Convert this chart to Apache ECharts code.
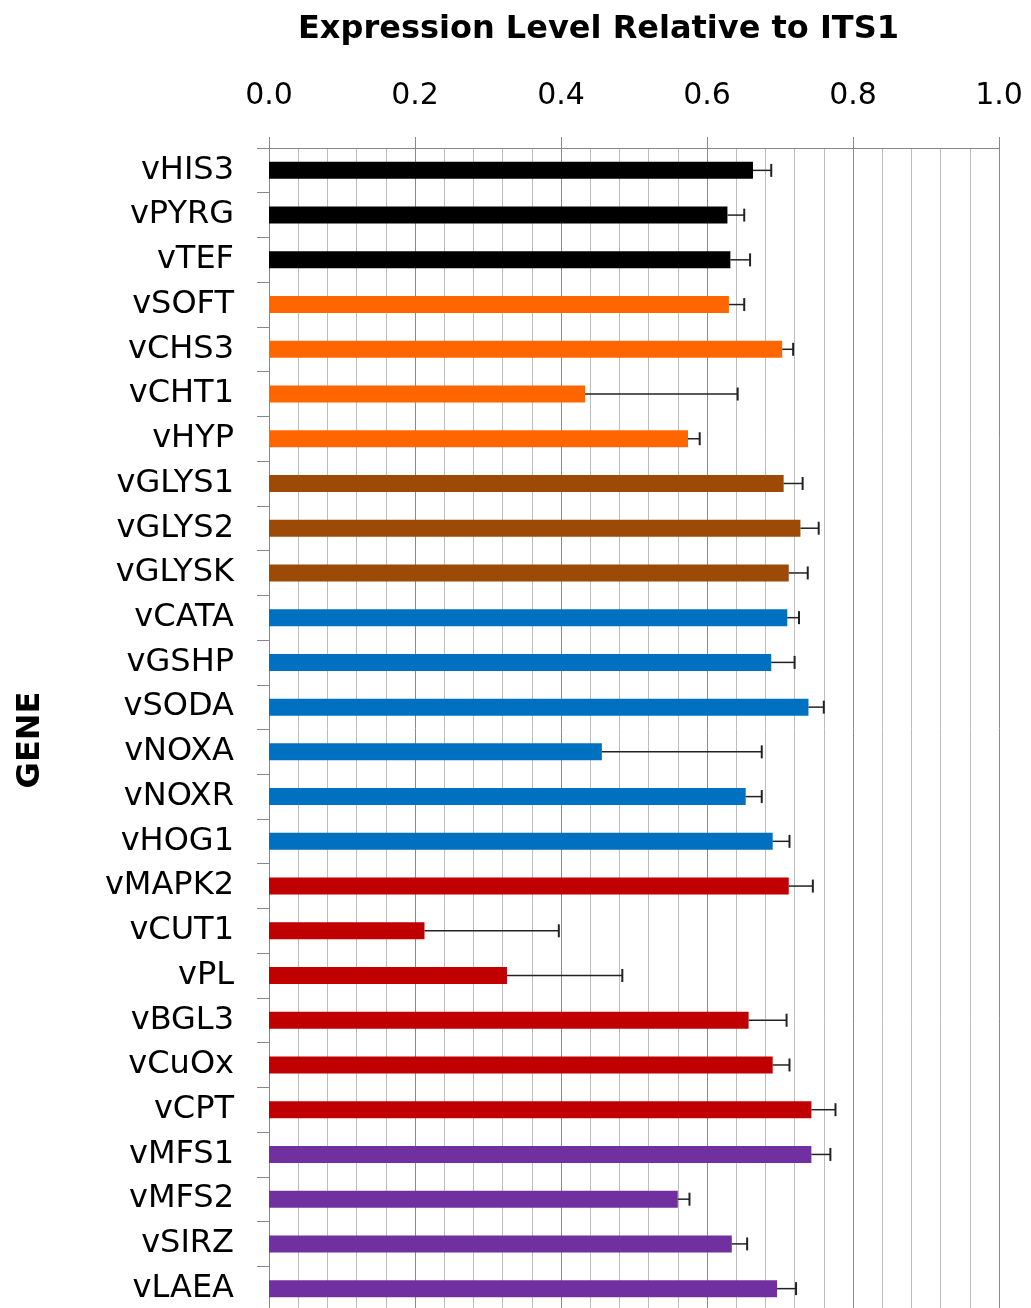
<!DOCTYPE html>
<html>
<head>
<meta charset="utf-8">
<script src="https://cdn.jsdelivr.net/npm/echarts@6/dist/echarts.min.js"></script>
<style>
html,body{margin:0;padding:0;background:#fff;}
#chart{width:1031px;height:1308px;}
</style>
</head>
<body>
<div id="chart"></div>
<script>
const categories = ['vHIS3','vPYRG','vTEF','vSOFT','vCHS3','vCHT1','vHYP','vGLYS1','vGLYS2','vGLYSK','vCATA','vGSHP','vSODA','vNOXA','vNOXR','vHOG1','vMAPK2','vCUT1','vPL','vBGL3','vCuOx','vCPT','vMFS1','vMFS2','vSIRZ','vLAEA'];
const values = [0.663,0.628,0.632,0.630,0.703,0.433,0.574,0.705,0.728,0.712,0.710,0.688,0.739,0.456,0.653,0.690,0.712,0.213,0.326,0.657,0.690,0.743,0.743,0.560,0.634,0.696];
const errors = [0.025,0.023,0.027,0.021,0.015,0.209,0.016,0.026,0.025,0.026,0.016,0.032,0.021,0.219,0.022,0.023,0.033,0.184,0.158,0.052,0.023,0.033,0.026,0.016,0.021,0.026];
const groups = [0,0,0,1,1,1,1,2,2,2,3,3,3,3,3,3,4,4,4,4,4,4,5,5,5,5];
const xTicks = ['0.0','0.2','0.4','0.6','0.8','1.0'];

const groupColors = ['#000000','#FF6600','#9C4A06','#0070C0','#C00000','#7030A0'];
const FONT = '"DejaVu Sans", "Liberation Sans", Arial, sans-serif';

const chart = echarts.init(document.getElementById('chart'));
chart.setOption({
  animation: false,
  backgroundColor: '#ffffff',
  title: {
    text: 'Expression Level Relative to ITS1',
    left: 293,
    top: 9,
    textStyle: {fontFamily: FONT, fontSize: 32, fontWeight: 'bold', color: '#000'}
  },
  graphic: [{
    type: 'text',
    x: 31,
    y: 740,
    rotation: Math.PI / 2,
    style: {text: 'GENE', align: 'center', verticalAlign: 'middle', fontFamily: FONT, fontSize: 32, fontWeight: 'bold', fill: '#000'}
  }],
  grid: {left: 269, right: 32, top: 148, bottom: -3, containLabel: false, outerBoundsMode: 'none'},
  xAxis: {
    type: 'value',
    position: 'top',
    min: 0,
    max: 1,
    interval: 0.2,
    axisLine: {show: true, lineStyle: {color: '#888', width: 1}},
    axisTick: {show: true, length: 11, lineStyle: {color: '#888'}},
    axisLabel: {
      fontFamily: FONT, fontSize: 30, color: '#000', margin: 37,
      formatter: function (v) { return xTicks[Math.round(v / 0.2)]; }
    },
    splitLine: {show: true, lineStyle: {color: '#8a8a8a', width: 1}},
    minorTick: {show: false, splitNumber: 5},
    minorSplitLine: {show: true, lineStyle: {color: '#bdbdbd', width: 1}}
  },
  yAxis: {
    type: 'category',
    inverse: true,
    data: categories,
    axisLine: {show: true, lineStyle: {color: '#888', width: 1}},
    axisTick: {show: true, length: 12, alignWithLabel: false, interval: 0, lineStyle: {color: '#888'}},
    axisLabel: {fontFamily: FONT, fontSize: 32, color: '#000', margin: 35, interval: 0},
    splitLine: {show: false}
  },
  series: [
    {
      type: 'bar',
      barWidth: 17,
      data: values.map(function (v, i) {
        return {value: v, itemStyle: {color: groupColors[groups[i]]}};
      }),
      z: 2
    },
    {
      type: 'custom',
      z: 3,
      encode: {x: [0, 2], y: 1},
      data: values.map(function (v, i) { return [v, i, v + errors[i]]; }),
      renderItem: function (params, api) {
        const idx = api.value(1);
        const p0 = api.coord([api.value(0), idx]);
        const p1 = api.coord([api.value(2), idx]);
        return {
          type: 'group',
          children: [
            {type: 'line', shape: {x1: p0[0], y1: p0[1], x2: p1[0], y2: p1[1]}, style: {stroke: '#222', lineWidth: 1.5}},
            {type: 'line', shape: {x1: p1[0], y1: p1[1] - 6.5, x2: p1[0], y2: p1[1] + 6.5}, style: {stroke: '#222', lineWidth: 2}}
          ]
        };
      }
    }
  ]
});
</script>
</body>
</html>
